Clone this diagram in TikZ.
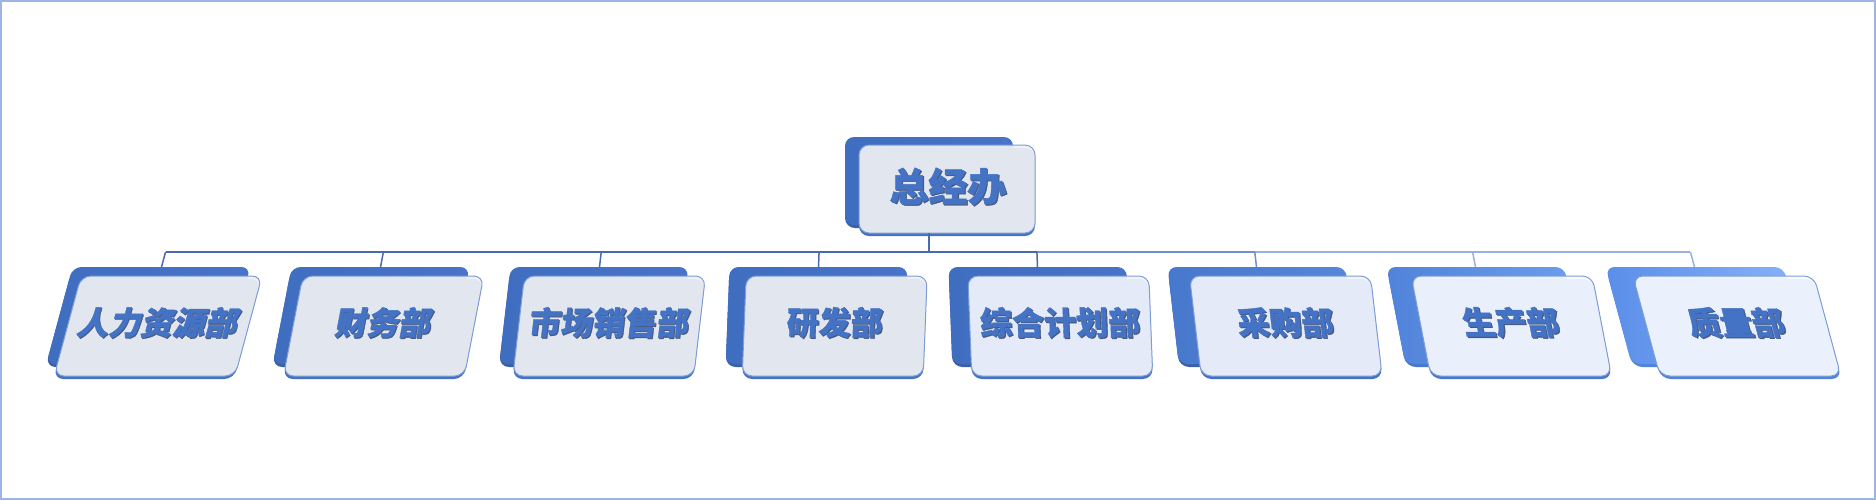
\documentclass[tikz,border=0pt]{standalone}
\usepackage{fontspec}
\newfontfamily\cjk{Noto Sans CJK SC}[BoldFeatures={FakeBold=1.2}]
\definecolor{framecol}{HTML}{9DB5E3}
\definecolor{deptblue}{HTML}{4472C4}
\definecolor{txtshade}{HTML}{4A5A7E}
\definecolor{linkA}{HTML}{4A6AAE}
\definecolor{linkB}{HTML}{6F8FD0}
\definecolor{linkC}{HTML}{97B0E0}
\definecolor{edgecol}{HTML}{7E9DD6}
\definecolor{paleA}{HTML}{EFF0F3}
\definecolor{paleB}{HTML}{F1F4FB}
\definecolor{paleC}{HTML}{F7FAFF}
\definecolor{backL}{HTML}{3F6DBF}
\definecolor{backR}{HTML}{4774C8}
\definecolor{sixL}{HTML}{4778CC}
\definecolor{sixR}{HTML}{5787DA}
\definecolor{sevL}{HTML}{5083DA}
\definecolor{sevR}{HTML}{6E9EEC}
\definecolor{eigL}{HTML}{5A8EE8}
\definecolor{eigR}{HTML}{8AB4FA}
\newcommand\shtxt[1]{\leavevmode\rlap{\kern0.55pt\raisebox{-0.55pt}{\color{txtshade}#1}}#1}

\begin{document}
\begin{tikzpicture}[x=0.5pt,y=-0.5pt,
  frame/.style={draw=framecol,line width=1pt},
  link/.style={draw=linkA,line width=0.75pt},
  back/.style={rounded corners=4.5pt},
  rim/.style={fill=deptblue!85!black,rounded corners=5pt},
  front/.style={draw=edgecol,line width=0.5pt,fill opacity=0.93,rounded corners=5pt},
  lbl/.style={text=deptblue,inner sep=0pt,font=\cjk\bfseries\fontsize{16}{16}\selectfont},
  toplbl/.style={lbl,font=\cjk\bfseries\fontsize{19.5}{19.5}\selectfont}]
\useasboundingbox (0,0) rectangle (1876,500);
\draw[frame] (1,1) rectangle (1875,499);

% top box
\fill[rim] (845,140) rectangle (1013,228);
\shade[back,left color=backL,right color=backR] (845,137) rectangle (1013,225);
\fill[rim,fill=deptblue] (859,148) rectangle (1035,236);
\draw[front,fill=paleA] (859,145) rectangle (1035,233);
\node[toplbl] (gm) at (948,187) {\shtxt{总经办}};
\coordinate (gmb) at (929,233);

% departments
\begin{scope}[shift={(161.5,267)},xslant=0.27,every node/.append style={xslant=0.27}]
  \fill[rim] (-89,3) rectangle (89,100);
  \shade[back,left color=backL,right color=backR] (-89,0) rectangle (89,97);
  \fill[rim,fill=deptblue] (-78,12) rectangle (103,112);
  \draw[front,fill=paleA] (-78,9) rectangle (103,109);
  \node[lbl] (d1) at (12.5,56) {\shtxt{人力资源部}};
  \coordinate (j1) at (0,-15);
  \coordinate (t1) at (0,0);
\end{scope}
\begin{scope}[shift={(380.5,267)},xslant=0.193,every node/.append style={xslant=0.193}]
  \fill[rim] (-89,3) rectangle (89,100);
  \shade[back,left color=backL,right color=backR] (-89,0) rectangle (89,97);
  \fill[rim,fill=deptblue] (-76,12) rectangle (105,112);
  \draw[front,fill=paleA] (-76,9) rectangle (105,109);
  \node[lbl] (d2) at (14.5,56) {\shtxt{财务部}};
  \coordinate (j2) at (0,-15);
  \coordinate (t2) at (0,0);
\end{scope}
\begin{scope}[shift={(599.5,267)},xslant=0.116,every node/.append style={xslant=0.116}]
  \fill[rim] (-89,3) rectangle (89,100);
  \shade[back,left color=backL,right color=backR] (-89,0) rectangle (89,97);
  \fill[rim,fill=deptblue] (-74,12) rectangle (107,112);
  \draw[front,fill=paleA] (-74,9) rectangle (107,109);
  \node[lbl] (d3) at (16.5,56) {\shtxt{市场销售部}};
  \coordinate (j3) at (0,-15);
  \coordinate (t3) at (0,0);
\end{scope}
\begin{scope}[shift={(818.5,267)},xslant=0.039,every node/.append style={xslant=0.039}]
  \fill[rim] (-89,3) rectangle (89,100);
  \shade[back,left color=backL,right color=backR] (-89,0) rectangle (89,97);
  \fill[rim,fill=deptblue] (-72,12) rectangle (109,112);
  \draw[front,fill=paleA] (-72,9) rectangle (109,109);
  \node[lbl] (d4) at (18.5,56) {\shtxt{研发部}};
  \coordinate (j4) at (0,-15);
  \coordinate (t4) at (0,0);
\end{scope}
\begin{scope}[shift={(1037.5,267)},xslant=-0.039,every node/.append style={xslant=-0.039}]
  \fill[rim] (-89,3) rectangle (89,100);
  \shade[back,left color=backL,right color=backR] (-89,0) rectangle (89,97);
  \fill[rim,fill=deptblue] (-70,12) rectangle (111,112);
  \draw[front,fill=paleB] (-70,9) rectangle (111,109);
  \node[lbl] (d5) at (20.5,56) {\shtxt{综合计划部}};
  \coordinate (j5) at (0,-15);
  \coordinate (t5) at (0,0);
\end{scope}
\begin{scope}[shift={(1256.5,267)},xslant=-0.116,every node/.append style={xslant=-0.116}]
  \fill[rim] (-89,3) rectangle (89,100);
  \shade[back,left color=sixL,right color=sixR] (-89,0) rectangle (89,97);
  \fill[rim,fill=deptblue] (-68,12) rectangle (113,112);
  \draw[front,fill=paleB] (-68,9) rectangle (113,109);
  \node[lbl] (d6) at (22.5,56) {\shtxt{采购部}};
  \coordinate (j6) at (0,-15);
  \coordinate (t6) at (0,0);
\end{scope}
\begin{scope}[shift={(1475.5,267)},xslant=-0.193,every node/.append style={xslant=-0.193}]
  \fill[rim,fill=sixL] (-89,3) rectangle (89,100);
  \shade[back,left color=sevL,right color=sevR] (-89,0) rectangle (89,97);
  \fill[rim,fill=sixL] (-66,12) rectangle (115,112);
  \draw[front,fill=paleC] (-66,9) rectangle (115,109);
  \node[lbl] (d7) at (24.5,56) {\shtxt{生产部}};
  \coordinate (j7) at (0,-15);
  \coordinate (t7) at (0,0);
\end{scope}
\begin{scope}[shift={(1694.5,267)},xslant=-0.27,every node/.append style={xslant=-0.27}]
  \fill[rim,fill=sevL] (-89,3) rectangle (89,100);
  \shade[back,left color=eigL,right color=eigR] (-89,0) rectangle (89,97);
  \fill[rim,fill=sevL] (-64,12) rectangle (117,112);
  \draw[front,fill=paleC] (-64,9) rectangle (117,109);
  \node[lbl] (d8) at (26.5,56) {\shtxt{质量部}};
  \coordinate (j8) at (0,-15);
  \coordinate (t8) at (0,0);
\end{scope}

% connectors
\draw[link] (gmb) -- (gmb |- j1);
\draw[link] (j1) -- (j5);
\draw[link,draw=linkB] (j5) -- (j6);
\draw[link,draw=linkC] (j6) -- (j8);
\draw[link] (j1) -- (t1);
\draw[link] (j2) -- (t2);
\draw[link] (j3) -- (t3);
\draw[link] (j4) -- (t4);
\draw[link] (j5) -- (t5);
\draw[link,draw=linkB] (j6) -- (t6);
\draw[link,draw=linkC] (j7) -- (t7);
\draw[link,draw=linkC] (j8) -- (t8);
\end{tikzpicture}
\end{document}
